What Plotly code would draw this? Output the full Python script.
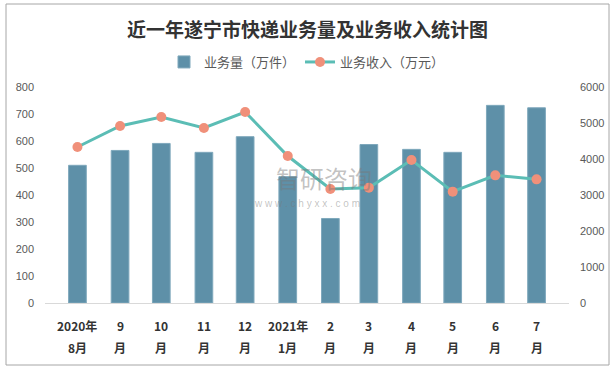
import plotly.graph_objects as go

categories = ["2020-08", "2020-09", "2020-10", "2020-11", "2020-12", "2021-01",
              "2021-02", "2021-03", "2021-04", "2021-05", "2021-06", "2021-07"]
label_top = ["2020年", "9", "10", "11", "12", "2021年", "2", "3", "4", "5", "6", "7"]
label_bottom = ["8月", "月", "月", "月", "月", "1月", "月", "月", "月", "月", "月", "月"]
volume = [510, 565, 591, 558, 616, 468, 313, 587, 569, 558, 732, 723]          # 万件
revenue = [4333, 4917, 5167, 4861, 5306, 4083, 3167, 3204, 3972, 3093, 3546, 3435]  # 万元

fig = go.Figure()
fig.add_trace(go.Bar(
    x=categories, y=volume, name="业务量（万件）",
    marker=dict(color="#5E90A8", line=dict(color="#7FA8BC", width=1)),
))
fig.add_trace(go.Scatter(
    x=categories, y=revenue, name="业务收入（万元）", yaxis="y2",
    mode="lines+markers",
    line=dict(color="#5BBDB5", width=3),
    marker=dict(color="#F0907A", size=10),
))

W, H = 615, 370
L, R, T, B = 45, 46, 87, 67
pw = W - L - R
ph = H - T - B

tick_font = dict(family="Liberation Sans, Arial, sans-serif", size=11, color="#595959")
fig.update_layout(
    width=W, height=H,
    margin=dict(l=L, r=R, t=T, b=B, autoexpand=False),
    paper_bgcolor="white", plot_bgcolor="white",
    title=dict(text="<b>近一年遂宁市快递业务量及业务收入统计图</b>",
               x=0.5, xanchor="center", y=1 - 30 / H, yanchor="middle",
               font=dict(family="Noto Sans CJK SC", size=19, color="#333333")),
    legend=dict(orientation="h", x=0.5, xanchor="center", y=(303 - 62) / ph, yanchor="middle",
                font=dict(family="Noto Sans CJK SC", size=13, color="#595959"),
                itemwidth=30, traceorder="normal"),
    bargap=0.54,
    showlegend=True,
    xaxis=dict(showticklabels=False, ticks="", showgrid=False, automargin=False,
               showline=True, linecolor="#D9D9D9", linewidth=1, fixedrange=True),
    yaxis=dict(range=[0, 800], dtick=100, showgrid=False, zeroline=False, automargin=False,
               tickfont=tick_font, ticks="", ticklabelstandoff=10),
    yaxis2=dict(range=[0, 6000], dtick=1000, overlaying="y", side="right", automargin=False,
                showgrid=False, zeroline=False, tickfont=tick_font, ticks="",
                ticklabelstandoff=10),
)

xlab_font = dict(family="Noto Sans CJK SC", size=12, color="#333333")
for c, t, b in zip(categories, label_top, label_bottom):
    fig.add_annotation(x=c, xref="x", y=0, yref="paper", text="<b>%s</b>" % t,
                       showarrow=False, yanchor="middle", yshift=-22, font=xlab_font)
    fig.add_annotation(x=c, xref="x", y=0, yref="paper", text="<b>%s</b>" % b,
                       showarrow=False, yanchor="middle", yshift=-44, font=xlab_font)

# watermark
fig.add_annotation(x=(324 - L) / pw, y=(303 - 177) / ph, xref="paper", yref="paper", text="智研咨询",
                   showarrow=False, yanchor="middle",
                   font=dict(family="Noto Sans CJK SC", size=24, color="rgba(120,120,120,0.45)"))
fig.add_annotation(x=(307 - L) / pw, y=(303 - 203) / ph, xref="paper", yref="paper",
                   text="w w w . c h y x x . c o m", showarrow=False, yanchor="middle",
                   font=dict(family="Liberation Sans", size=10, color="rgba(120,120,120,0.45)"))

# outer border
fig.add_shape(type="rect", xref="paper", yref="paper",
              x0=(6 - L) / pw, x1=(609 - L) / pw,
              y0=(303 - 365) / ph, y1=(303 - 4) / ph,
              line=dict(color="#A6A6A6", width=1), fillcolor="rgba(0,0,0,0)", layer="below")

fig.write_html("out.html", config={"displayModeBar": False},
               post_script="document.body.style.margin='0';document.body.style.overflow='hidden';")
